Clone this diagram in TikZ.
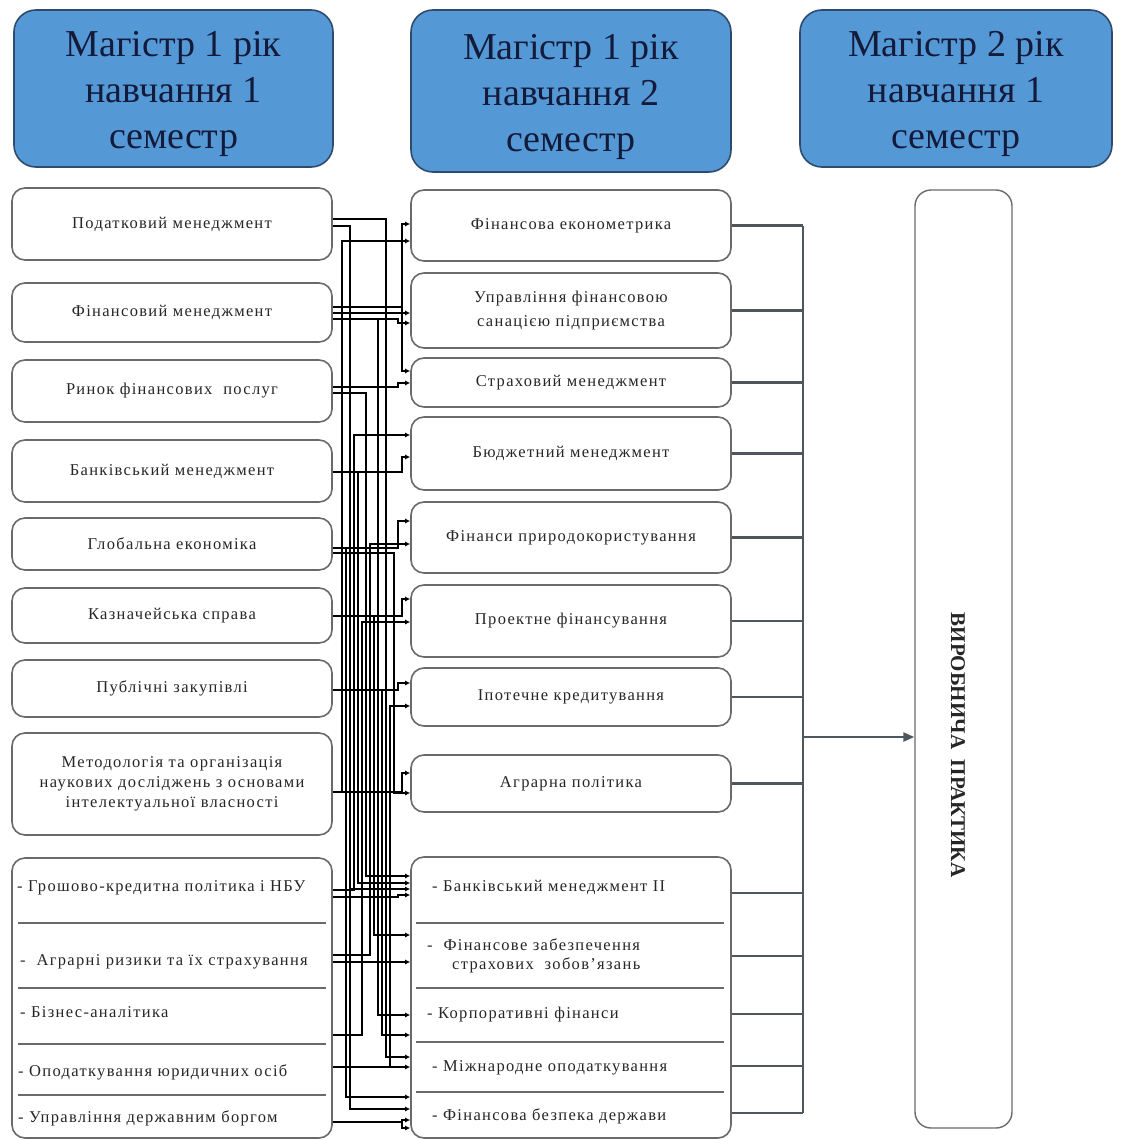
\documentclass[tikz,border=0pt]{standalone}
\usepackage{fontspec}
\setmainfont{Liberation Serif}
\newfontfamily\boxfont[LetterSpace=8]{Liberation Serif}
\newfontfamily\hdrfont{Liberation Serif}
\usetikzlibrary{arrows.meta}
\definecolor{hdrfill}{HTML}{5499D6}
\definecolor{hdrline}{HTML}{2E4B6E}
\definecolor{hdrtext}{HTML}{141A3A}
\definecolor{boxline}{HTML}{6A6A6A}
\definecolor{busline}{HTML}{4E565E}
\begin{document}
\begin{tikzpicture}[x=1pt,y=-1pt,
  hdr/.style={draw=hdrline, line width=1.6pt, fill=hdrfill, rounded corners=22pt, inner sep=0pt, align=center, font=\hdrfont\fontsize{38}{46}\selectfont, text=hdrtext},
  hdrtxt/.style={inner sep=0pt, align=center, font=\hdrfont\fontsize{38}{46}\selectfont, text=hdrtext},
  lbox/.style={draw=boxline, line width=1.6pt, fill=white, rounded corners=13pt, inner sep=0pt, align=center, font=\boxfont\fontsize{16.5}{20}\selectfont, text=black!85},
  wire/.style={line width=1.3pt, -{Latex[length=5pt,width=5pt]}},
  bus/.style={draw=busline, line width=2.2pt},
  sep/.style={draw=boxline, line width=1.6pt},
  item/.style={anchor=west, inner sep=0pt, font=\boxfont\fontsize{16.5}{19}\selectfont, text=black!85, align=left}]
\useasboundingbox (0,0) rectangle (1122,1140);
\fill[white] (0,0) rectangle (1122,1140);

% headers
\node[hdr, minimum width=319pt, minimum height=157pt] (h1) at (173.5,88.5) {};
\node[hdr, minimum width=320pt, minimum height=162pt] (h2) at (571,91) {};
\node[hdr, minimum width=312pt, minimum height=157pt] (h3) at (956,88.5) {};
\node[hdrtxt] (t1) at (173.5,94) {Магістр 1 рік\\навчання 1\\семестр};
\node[hdrtxt] (t2) at (571,97) {Магістр 1 рік\\навчання 2\\семестр};
\node[hdrtxt] (t3) at (956,94) {Магістр 2 рік\\навчання 1\\семестр};

% left column
\node[lbox, minimum width=320pt, minimum height=72pt] (l1) at (172,224) {Податковий менеджмент};
\node[lbox, minimum width=320pt, minimum height=59pt] (l2) at (172,312.5) {Фінансовий менеджмент};
\node[lbox, minimum width=320pt, minimum height=62pt] (l3) at (172,391) {Ринок фінансових\ \ послуг};
\node[lbox, minimum width=320pt, minimum height=62pt] (l4) at (172,471) {Банківський менеджмент};
\node[lbox, minimum width=320pt, minimum height=52pt] (l5) at (172,544) {Глобальна економіка};
\node[lbox, minimum width=320pt, minimum height=55pt] (l6) at (172,615.5) {Казначейська справа};
\node[lbox, minimum width=320pt, minimum height=57pt] (l7) at (172,688.5) {Публічні закупівлі};
\node[lbox, minimum width=320pt, minimum height=102pt] (l8) at (172,784) {Методологія та організація\\наукових досліджень з основами\\інтелектуальної власності};
\node[lbox, minimum width=320pt, minimum height=280pt] (l9) at (172,998) {};
\foreach \yy in {923,988,1044,1095} \draw[sep] (18,\yy) -- (326,\yy);
\node[item] (la) at (17,888) {- Грошово-кредитна політика і НБУ};
\node[item] (lb) at (20,962) {-\ \ Аграрні ризики та їх страхування};
\node[item] (lc) at (20,1012) {- Бізнес-аналітика};
\node[item] (ld) at (18,1072) {- Оподаткування юридичних осіб};
\node[item] (le) at (18,1118) {- Управління державним боргом};

% middle column
\node[lbox, minimum width=320pt, minimum height=71pt] (m1) at (571,225.5) {Фінансова економетрика};
\node[lbox, minimum width=320pt, minimum height=75pt, font=\boxfont\fontsize{16.5}{24}\selectfont] (m2) at (571,310.5) {Управління фінансовою\\санацією підприємства};
\node[lbox, minimum width=320pt, minimum height=49pt] (m3) at (571,382.5) {Страховий менеджмент};
\node[lbox, minimum width=320pt, minimum height=73pt] (m4) at (571,453.5) {Бюджетний менеджмент};
\node[lbox, minimum width=320pt, minimum height=71pt] (m5) at (571,537.5) {Фінанси природокористування};
\node[lbox, minimum width=320pt, minimum height=72pt] (m6) at (571,621) {Проектне фінансування};
\node[lbox, minimum width=320pt, minimum height=58pt] (m7) at (571,697) {Іпотечне кредитування};
\node[lbox, minimum width=320pt, minimum height=57pt] (m8) at (571,783.5) {Аграрна політика};
\node[lbox, minimum width=320pt, minimum height=281pt] (m9) at (571,997.5) {};
\foreach \yy in {923,988,1042,1092} \draw[sep] (416,\yy) -- (724,\yy);
\node[item] (ma) at (432,887) {- Банківський менеджмент II};
\node[item] (mb) at (427,956) {-\ \ Фінансове забезпечення\\\hspace*{25pt}страхових\ \ зобов’язань};
\node[item] (mc) at (427,1015) {-\ Корпоративні фінанси};
\node[item] (md) at (432,1068) {- Міжнародне оподаткування};
\node[item] (me) at (432,1116) {- Фінансова безпека держави};

% practice
\node[draw=boxline, line width=1.4pt, rounded corners=16pt, minimum width=97pt, minimum height=938pt] (p) at (963.5,659) {};
\node[rotate=-90, font=\bfseries\fontsize{21}{24}\selectfont, text=black!85] (pt) at (958,745) {ВИРОБНИЧА\ \ ПРАКТИКА};

% bus
\coordinate (bt) at (803,225.5);
\coordinate (bb) at (803,1113);
\foreach \m in {m1,m2,m3,m4,m5,m6,m7,m8} \draw[bus] (\m.east) -- (\m.east -| bt);
\foreach \yy in {893,956,1014,1066,1113} \draw[bus] (m9.east |- 0,\yy) -- (bt |- 0,\yy);
\draw[bus] (bt) -- (bb);
\draw[bus, -{Triangle[length=11pt,width=9pt]}] (bt |- 0,737) -- (p.west |- 0,737);

% wiring
\foreach \s/\ys/\cx/\t/\yt in {
  l1/219/386/m9/1057, l1/226/350/m9/1109, l1/226/350/m9/889,
  l2/313/402/m2/313, l2/307/402/m1/224, l2/307/402/m3/371,
  l8/792/342/m1/241, l2/319/378/m9/1015, l2/319/398/m2/323,
  l3/387/398/m3/383, l3/393/366/m9/876,
  l4/472/402/m4/457, l4/472/358/m9/883,
  l9/890/354/m4/435,
  l5/548/398/m5/521, l5/548/346/m9/1097, l5/553/394/m8/793,
  l9/955/370/m5/544,
  l6/616/402/m6/599, l6/616/374/m9/935,
  l9/1035/362/m6/622,
  l7/690/398/m7/683, l7/690/382/m9/1035,
  l9/1067/390/m7/706,
  l8/792/402/m8/773,
  l9/897/398/m9/895, l9/962/400/m9/962, l9/1067/400/m9/1067,
  l9/1122/402/m9/1120, l9/1122/402/m9/1128}
  {\draw[wire] (\s.east |- 0,\ys) -| (\cx,\yt) -- (\t.west |- 0,\yt);}
\end{tikzpicture}
\end{document}
